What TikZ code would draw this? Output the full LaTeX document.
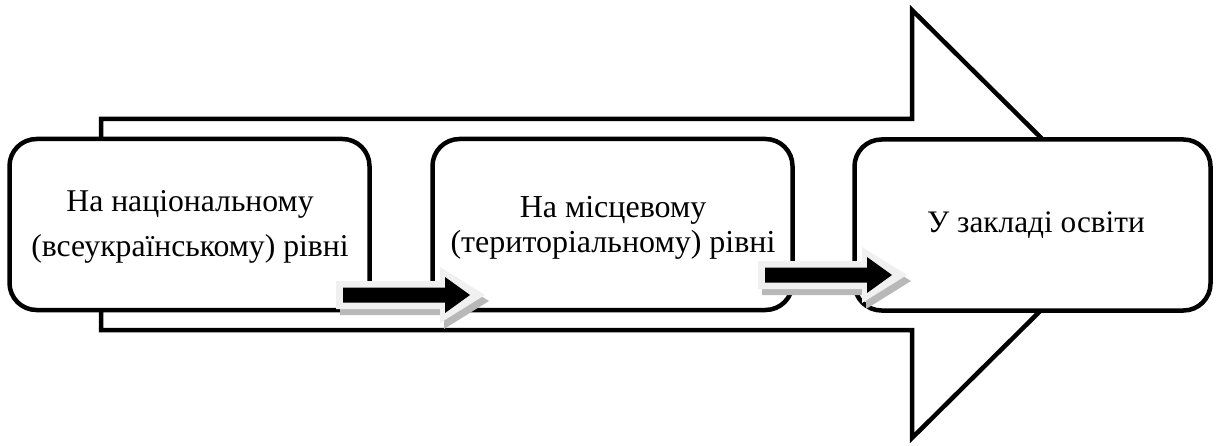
\documentclass[tikz,border=0pt]{standalone}
\usepackage{fontspec}
\setmainfont{Liberation Serif}
\begin{document}
\begin{tikzpicture}[x=1pt,y=-1pt,
  bigarrow/.style={draw=black, line width=4.5pt, line join=miter, fill=white},
  level/.style={draw=black, line width=4.5pt, rounded corners=27pt, fill=white, rectangle, inner sep=0pt},
  lblA/.style={font=\fontsize{31.7}{45}\selectfont, anchor=base, inner sep=0pt},
  lblB/.style={font=\fontsize{32}{34}\selectfont, anchor=base, inner sep=0pt},
  lblC/.style={font=\fontsize{31.3}{34}\selectfont, anchor=base, inner sep=0pt},
  blockarrow/.pic={
    \fill[black!28] (-130,-8) -- (-26,-8) -- (-26,-22) -- (19,6) -- (-26,34) -- (-26,20) -- (-130,20) -- cycle;
    \fill[black!6] (-134,-14) -- (-30,-14) -- (-30,-28) -- (15,0) -- (-30,28) -- (-30,14) -- (-134,14) -- cycle;
    \fill[black] (-127,-7.5) -- (-25,-7.5) -- (-25,-18) -- (0,0) -- (-25,18) -- (-25,7.5) -- (-127,7.5) -- cycle;
  }]
\useasboundingbox (0,0) rectangle (1217,446);
% big background arrow
\draw[bigarrow] (101,119) -- (912,119) -- (912,10) -- (1128,224) -- (912,438) -- (912,330) -- (101,330) -- cycle;
% level boxes
\node[level, minimum width=360pt, minimum height=171pt] (b1) at (189.5,224.5) {};
\node[level, minimum width=360pt, minimum height=171pt] (b2) at (612.5,224.5) {};
\node[level, minimum width=356pt, minimum height=171pt] (b3) at (1032.5,225) {};
% texts
\node[lblA] (t1a) at (190,212) {На національному};
\node[lblA] (t1b) at (190,257) {(всеукраїнському) рівні};
\node[lblB] (t2a) at (613,218) {На місцевому};
\node[lblB] (t2b) at (613,252) {(територіальному) рівні};
\node[lblC] (t3) at (1036,233) {У закладі освіти};
% block arrows between levels
\coordinate (a1) at (470,295);
\coordinate (a2) at (892,275);
\pic at (a1) {blockarrow};
\pic at (a2) {blockarrow};
\end{tikzpicture}
\end{document}
